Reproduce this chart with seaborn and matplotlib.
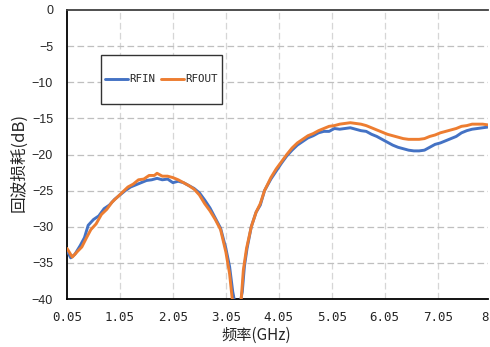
import matplotlib
matplotlib.use("Agg")
import matplotlib.pyplot as plt
import matplotlib.transforms as mtransforms
from matplotlib.patches import Rectangle
import seaborn as sns
import pandas as pd
from matplotlib.ticker import FixedLocator, MultipleLocator

# ---- data ----
rfin_f = [0.05, 0.12, 0.2, 0.3, 0.38, 0.45, 0.55, 0.65, 0.75, 0.85, 0.95, 1.05, 1.15, 1.25,
          1.35, 1.45, 1.55, 1.65, 1.75, 1.85, 1.95, 2.05, 2.15, 2.25, 2.35, 2.45, 2.55, 2.65,
          2.75, 2.85, 2.95, 3.05, 3.12, 3.18, 3.27, 3.36, 3.40, 3.45, 3.53, 3.62, 3.70, 3.78,
          3.9, 4.0, 4.1, 4.2, 4.3, 4.4, 4.5, 4.6, 4.7, 4.8, 4.9, 5.0, 5.1, 5.2, 5.3, 5.4, 5.5,
          5.6, 5.7, 5.8, 5.9, 6.0, 6.1, 6.2, 6.3, 6.4, 6.5, 6.6, 6.7, 6.8, 6.9, 7.0, 7.1, 7.2,
          7.3, 7.4, 7.5, 7.6, 7.7, 7.8, 7.9, 8.0]
rfin_db = [-33.3, -34.3, -33.8, -32.6, -31.5, -29.8, -29.0, -28.5, -27.5, -27.0, -26.2, -25.6,
           -25.0, -24.5, -24.2, -23.9, -23.6, -23.5, -23.3, -23.5, -23.4, -23.9, -23.7, -23.9,
           -24.3, -24.7, -25.3, -26.3, -27.4, -28.8, -30.2, -33.0, -35.5, -39.0, -42.5, -39.0,
           -35.5, -33.0, -30.0, -28.0, -27.0, -25.0, -23.4, -22.3, -21.2, -20.2, -19.4, -18.7,
           -18.2, -17.7, -17.4, -17.0, -16.8, -16.8, -16.4, -16.5, -16.4, -16.3, -16.5, -16.7,
           -16.8, -17.2, -17.5, -17.9, -18.3, -18.7, -19.0, -19.2, -19.4, -19.5, -19.5, -19.4,
           -19.0, -18.6, -18.4, -18.1, -17.8, -17.5, -17.0, -16.7, -16.5, -16.4, -16.3, -16.2]

rfout_f = [0.05, 0.15, 0.25, 0.33, 0.42, 0.5, 0.6, 0.7, 0.8, 0.9, 1.0, 1.1, 1.2, 1.3, 1.4, 1.5,
           1.6, 1.7, 1.75, 1.85, 1.95, 2.05, 2.15, 2.25, 2.35, 2.45, 2.55, 2.65, 2.75, 2.85,
           2.95, 3.05, 3.12, 3.17, 3.26, 3.34, 3.38, 3.44, 3.53, 3.62, 3.70, 3.78, 3.9, 4.0,
           4.1, 4.2, 4.3, 4.4, 4.5, 4.6, 4.7, 4.8, 4.9, 5.0, 5.1, 5.2, 5.3, 5.4, 5.5, 5.6, 5.7,
           5.8, 5.9, 6.0, 6.1, 6.2, 6.3, 6.4, 6.5, 6.6, 6.7, 6.8, 6.9, 7.0, 7.1, 7.2, 7.3, 7.4,
           7.5, 7.6, 7.7, 7.8, 7.9, 8.0]
rfout_db = [-33.0, -34.2, -33.4, -32.8, -31.5, -30.4, -29.6, -28.3, -27.6, -26.6, -25.9, -25.2,
            -24.5, -24.1, -23.5, -23.4, -22.9, -22.9, -22.6, -23.0, -23.0, -23.2, -23.5, -23.9,
            -24.3, -24.8, -25.6, -26.8, -27.8, -29.0, -30.4, -33.5, -36.5, -40.0, -43.0, -40.0,
            -36.0, -33.0, -30.0, -28.0, -26.8, -25.0, -23.2, -22.0, -21.0, -20.0, -19.1, -18.4,
            -17.9, -17.4, -17.1, -16.7, -16.4, -16.1, -16.0, -15.8, -15.7, -15.6, -15.7, -15.8,
            -16.0, -16.3, -16.6, -16.9, -17.2, -17.4, -17.6, -17.8, -17.9, -17.9, -17.9, -17.8,
            -17.5, -17.3, -17.0, -16.8, -16.6, -16.4, -16.1, -16.0, -15.8, -15.8, -15.8, -15.9]

series_names = ["RFIN", "RFOUT"]
series_colors = ["#4472C4", "#ED7D31"]
x_ticks = [0.05, 1.05, 2.05, 3.05, 4.05, 5.05, 6.05, 7.05, 8]
x_tick_labels = ["0.05", "1.05", "2.05", "3.05", "4.05", "5.05", "6.05", "7.05", "8"]
y_ticks = [0, -5, -10, -15, -20, -25, -30, -35, -40]
x_label = "频率(GHz)"
y_label = "回波损耗(dB)"

df = pd.concat([
    pd.DataFrame({"f": rfin_f, "db": rfin_db, "s": series_names[0]}),
    pd.DataFrame({"f": rfout_f, "db": rfout_db, "s": series_names[1]}),
], ignore_index=True)

sns.set_style("white")
plt.rcParams["font.family"] = ["Noto Sans CJK SC", "DejaVu Sans"]
plt.rcParams["axes.unicode_minus"] = True

fig = plt.figure(figsize=(4.9, 3.47), dpi=100)
ax = fig.add_axes([67 / 490, 1 - 299 / 347, 421 / 490, 289 / 347])

sns.lineplot(data=df, x="f", y="db", hue="s", palette=series_colors, estimator=None,
             linewidth=2.1, ax=ax, legend=True, zorder=3)

ax.set_xlim(0.05, 8)
ax.set_ylim(-40, 0)

ax.xaxis.set_major_locator(FixedLocator(x_ticks))
ax.set_xticklabels(x_tick_labels, family=["DejaVu Sans Mono"], fontsize=9)
ax.xaxis.set_minor_locator(FixedLocator([0.55 + i for i in range(8)]))
ax.yaxis.set_major_locator(FixedLocator(y_ticks))
ax.set_yticklabels(["0" if v == 0 else "\u2212%d" % (-v) for v in y_ticks],
                   family=["Liberation Sans"], fontsize=9)
ax.yaxis.set_minor_locator(MultipleLocator(1))

ax.tick_params(axis="both", which="major", direction="in", length=4, width=1.0, color="black")
ax.tick_params(axis="both", which="minor", direction="in", length=3, width=0.8, color="black")
ax.tick_params(axis="y", which="major", pad=10)
ax.tick_params(axis="x", which="major", pad=8.5)

# keep the last tick label ("8") inside the canvas
last = ax.get_xticklabels()[-1]
last.set_transform(last.get_transform() +
                   mtransforms.ScaledTranslation(-3 / 100, 0, fig.dpi_scale_trans))

# grid
for v in x_ticks[1:-1]:
    ax.axvline(v, color="#d6d6d6", linestyle=(0, (5.3, 2.7)), linewidth=0.9, zorder=1)
for v in y_ticks[1:-1]:
    ax.axhline(v, color="#bfbfbf", linestyle=(0, (5.3, 2.7)), linewidth=0.9, zorder=1)

for side in ["left", "bottom"]:
    ax.spines[side].set_color("black")
    ax.spines[side].set_linewidth(1.3)
ax.spines["top"].set_color("#404040")
ax.spines["top"].set_linewidth(1.3)
ax.spines["right"].set_visible(False)

ax.set_xlabel(x_label, fontsize=11)
ax.set_ylabel(y_label, fontsize=12)
ax.xaxis.set_label_coords(0.449, -0.097)
ax.yaxis.set_label_coords(-0.095, 0.474)

# legend: frame box drawn separately for the tall, narrow-padded look
frame = Rectangle((34 / 421, 1 - 94 / 289), 121 / 421, 49 / 289, transform=ax.transAxes,
                  facecolor="white", edgecolor="#333333", linewidth=1.0, zorder=4)
ax.add_patch(frame)
handles, labels = ax.get_legend_handles_labels()
leg = ax.legend(handles, labels, loc="center", bbox_to_anchor=((34 + 60.5) / 421, 1 - 69.5 / 289),
                ncol=2, frameon=False, borderpad=0.0, borderaxespad=0.0,
                handlelength=2.1, handletextpad=0.15, columnspacing=0.5,
                prop={"family": ["DejaVu Sans Mono"], "size": 7.8})
leg.set_zorder(5)

fig.savefig("out.png", dpi=100)
